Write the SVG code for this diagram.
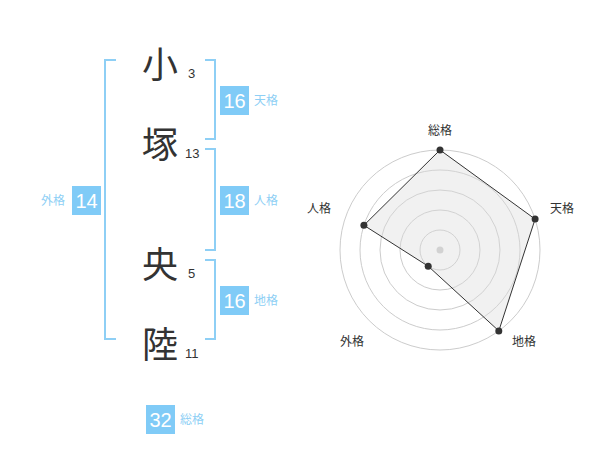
<svg xmlns="http://www.w3.org/2000/svg" width="600" height="470" viewBox="0 0 600 470">
<style>
.ch{font-family:"Noto Sans CJK JP","Noto Sans",sans-serif;font-size:36px;fill:#333;text-anchor:middle}
.st{font-family:"Liberation Sans",Arial,sans-serif;font-size:13px;fill:#333}
.br{fill:none;stroke:#8ecff5;stroke-width:2}
.bx{fill:#80cbf7}
.bn{font-family:"Liberation Sans",Arial,sans-serif;font-size:20px;fill:#fff;text-anchor:middle}
.lb{font-family:"Noto Sans CJK JP","Noto Sans",sans-serif;font-size:12px;fill:#8ecff5}
.ring{fill:none;stroke:#cccccc;stroke-width:1}
.ax{font-family:"Noto Sans CJK JP","Noto Sans",sans-serif;font-size:12px;fill:#333;text-anchor:middle}
.dot{fill:#333}
</style>
<rect width="600" height="470" fill="#fff"/>
<g id="names">
<g id="c1"><text class="ch" x="160" y="78">小</text><text class="st" x="188" y="78">3</text></g>
<g id="c2"><text class="ch" x="160" y="158">塚</text><text class="st" x="185" y="158">13</text></g>
<g id="c3"><text class="ch" x="160" y="278">央</text><text class="st" x="188" y="278">5</text></g>
<g id="c4"><text class="ch" x="160" y="358">陸</text><text class="st" x="185" y="358">11</text></g>
</g>
<g id="brackets">
<path class="br" d="M116 60H105V339H116"/>
<path class="br" d="M205 60H215V139H205"/>
<path class="br" d="M205 149H215V250H205"/>
<path class="br" d="M205 260H215V339H205"/>
</g>
<g id="tenkaku"><rect class="bx" x="220" y="86" width="29" height="29"/><text class="bn" x="234.5" y="108">16</text><text class="lb" x="254" y="105">天格</text></g>
<g id="jinkaku"><rect class="bx" x="220" y="186" width="29" height="29"/><text class="bn" x="234.5" y="208">18</text><text class="lb" x="254" y="205">人格</text></g>
<g id="gaikaku"><rect class="bx" x="72" y="186" width="29" height="29"/><text class="bn" x="86.5" y="208">14</text><text class="lb" x="41" y="205">外格</text></g>
<g id="chikaku"><rect class="bx" x="220" y="286" width="29" height="29"/><text class="bn" x="234.5" y="308">16</text><text class="lb" x="254" y="305">地格</text></g>
<g id="soukaku"><rect class="bx" x="146" y="405" width="29" height="29"/><text class="bn" x="160.5" y="427">32</text><text class="lb" x="180" y="424">総格</text></g>
<g id="radar">
<circle class="ring" cx="440" cy="250" r="20"/>
<circle class="ring" cx="440" cy="250" r="40"/>
<circle class="ring" cx="440" cy="250" r="60"/>
<circle class="ring" cx="440" cy="250" r="80"/>
<circle class="ring" cx="440" cy="250" r="100"/>
<circle cx="440" cy="250" r="3.5" fill="#cccccc"/>
<polygon points="440,150 535.1,219.1 498.8,330.9 428.2,266.2 363.9,225.3" fill="#dddddd" fill-opacity="0.4" stroke="#333" stroke-width="1"/>
<circle class="dot" cx="440" cy="150" r="3.5"/>
<circle class="dot" cx="535.1" cy="219.1" r="3.5"/>
<circle class="dot" cx="498.8" cy="330.9" r="3.5"/>
<circle class="dot" cx="428.2" cy="266.2" r="3.5"/>
<circle class="dot" cx="363.9" cy="225.3" r="3.5"/>
<text class="ax" x="440" y="135">総格</text>
<text class="ax" x="562" y="213">天格</text>
<text class="ax" x="524" y="346">地格</text>
<text class="ax" x="352" y="346">外格</text>
<text class="ax" x="319" y="213">人格</text>
</g>
</svg>
